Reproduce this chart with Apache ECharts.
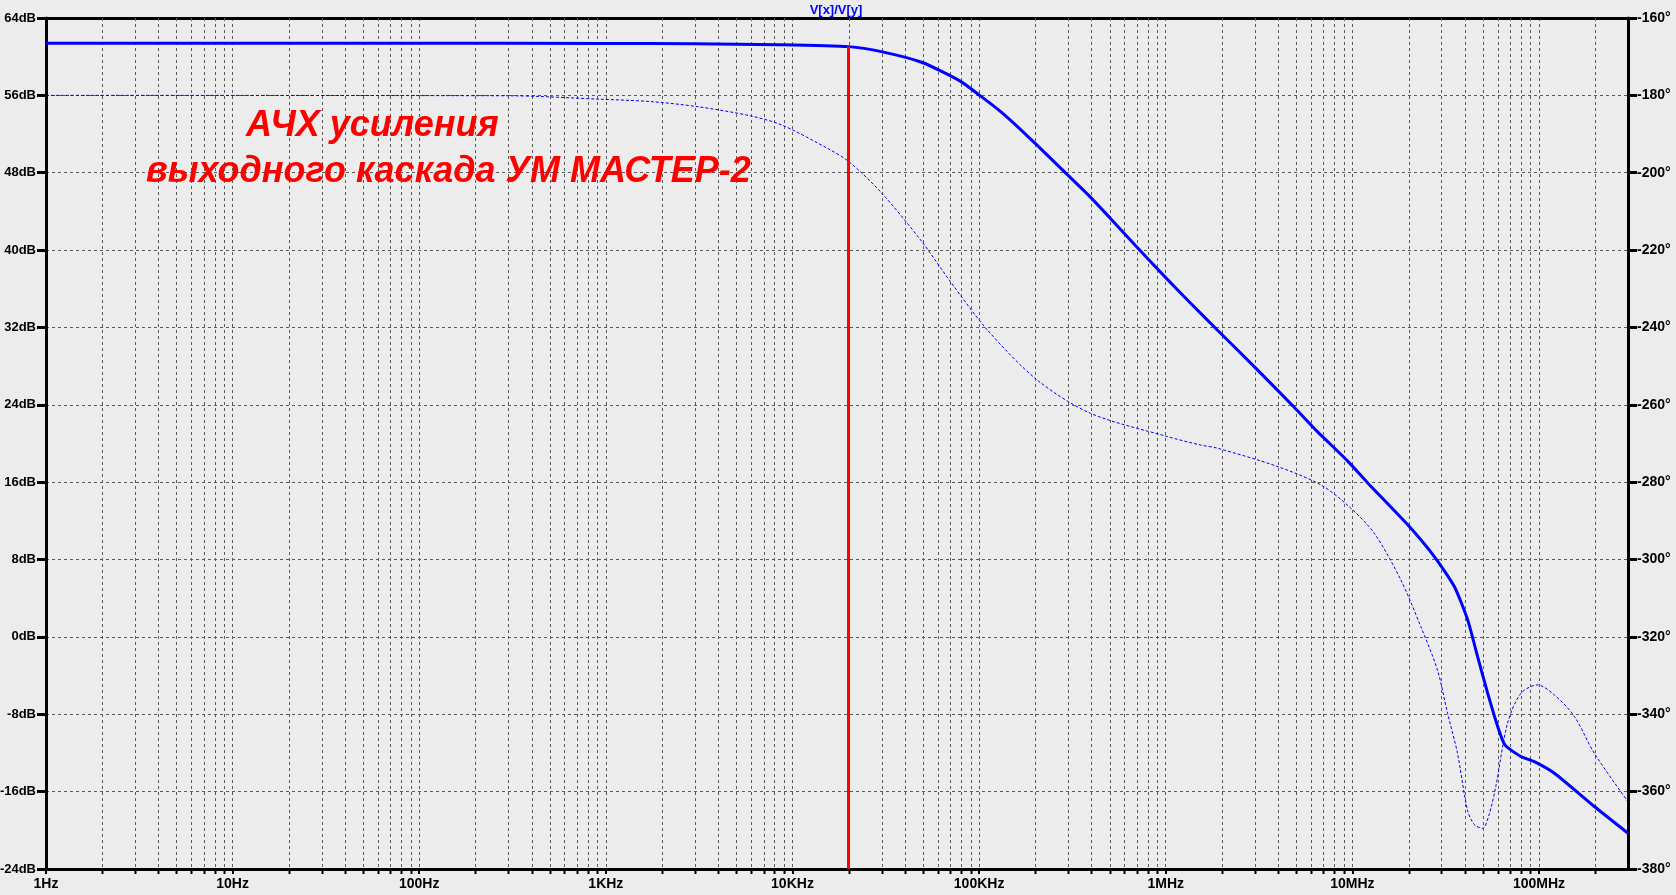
<!DOCTYPE html>
<html>
<head>
<meta charset="utf-8">
<script src="https://cdn.jsdelivr.net/npm/echarts/dist/echarts.min.js"></script>
<style>
html,body{margin:0;padding:0;background:#ececec;}
#chart{width:1676px;height:895px;}
</style>
</head>
<body>
<div id="chart"></div>
<script>
// ---- data ----
const magFreq = [1, 100, 1000, 3000, 8400, 20000, 30300, 49600, 79600, 102000, 130000, 160000, 203000, 297000, 396000, 507000, 690000, 1000000, 1360000, 1890000, 2980000, 4880000, 6500000, 9420000, 12050000, 19700000, 27500000, 35200000, 41500000, 46900000, 53100000, 60100000, 65700000, 80000000, 94400000, 121000000, 198000000, 300000000];
const magDb   = [61.38, 61.38, 61.37, 61.33, 61.24, 61.04, 60.5, 59.4, 57.45, 55.92, 54.35, 52.8, 50.9, 47.8, 45.45, 43.25, 40.45, 37.15, 34.5, 31.74, 27.95, 23.75, 21.23, 18.2, 15.95, 11.65, 8.31, 5.21, 1.76, -2.03, -5.82, -9.27, -11.17, -12.37, -12.9, -14.1, -17.54, -20.3];

const phFreq = [1, 300, 935, 1730, 3080, 5960, 8800, 15400, 20000, 29600, 48600, 70300, 111000, 205000, 396000, 1020000, 1540000, 1890000, 4000000, 6780000, 9600000, 13100000, 18200000, 23300000, 28600000, 32400000, 36600000, 41400000, 45000000, 49900000, 54000000, 58700000, 67900000, 80000000, 98200000, 121000000, 155000000, 198000000, 300000000];
const phDeg  = [-180, -180.1, -181.0, -181.6, -182.9, -185.3, -187.7, -193.7, -197.1, -204.9, -217.4, -228.2, -240.7, -253.6, -262.2, -268.2, -270.4, -271.2, -276, -280.7, -286.3, -293.2, -305.3, -317.4, -328.6, -339.8, -350.1, -364.8, -368.5, -369.5, -366, -358.7, -342.3, -334.6, -332.4, -335, -340.6, -350.1, -362.6];

const xTickLabels = ['1Hz', '10Hz', '100Hz', '1KHz', '10KHz', '100KHz', '1MHz', '10MHz', '100MHz'];
const cursorFreq = 20000;
const titleText = 'V[x]/V[y]';
const noteLine1 = 'АЧХ усиления';
const noteLine2 = 'выходного каскада УМ МАСТЕР-2';

// minor grid positions (2..9 per decade)
const minorFreqs = [];
for (let e = 0; e <= 8; e++) {
  for (let k = 2; k <= 9; k++) {
    const f = k * Math.pow(10, e);
    if (f < 3e8) minorFreqs.push(f);
  }
}

const chart = echarts.init(document.getElementById('chart'), null, {renderer: 'canvas'});
const FONT = 'Liberation Sans';
const gridDash = {color: '#5a5a5a', width: 1, type: [3, 3]};
const labelStyle = {color: '#000', fontFamily: FONT, fontSize: 14, fontWeight: 'bold'};
const leftLabelStyle = {color: '#000', fontFamily: FONT, fontSize: 13, fontWeight: 'bold'};

const cursorDb = magDb[magFreq.indexOf(cursorFreq)];

chart.setOption({
  animation: false,
  backgroundColor: '#ececec',
  title: {
    text: titleText,
    left: 831, top: -1,
    textAlign: 'center',
    textStyle: {color: '#0000ff', fontFamily: FONT, fontSize: 13, fontWeight: 'bold'}
  },
  grid: {left: 46, right: 48, top: 18, bottom: 26, containLabel: false, outerBoundsMode: 'none'},
  xAxis: [{
    type: 'log', logBase: 10, min: 1, max: 3e8,
    position: 'bottom',
    axisLine: {show: true, onZero: false, lineStyle: {color: '#000', width: 3}},
    axisTick: {show: true, length: 5, lineStyle: {color: '#000', width: 2}},
    axisLabel: Object.assign({
      margin: 8,
      showMaxLabel: false,
      formatter: function (v) {
        const l = Math.log10(v), e = Math.round(l);
        if (Math.abs(l - e) > 0.01) return '';
        return xTickLabels[e] || '';
      }
    }, labelStyle),
    splitLine: {show: true, showMinLine: false, showMaxLine: false, lineStyle: gridDash}
  }, {
    type: 'log', logBase: 10, min: 1, max: 3e8,
    position: 'top',
    axisLine: {show: true, onZero: false, lineStyle: {color: '#000', width: 3}},
    axisTick: {show: false}, axisLabel: {show: false}, splitLine: {show: false}
  }],
  yAxis: [{
    type: 'value', min: -24, max: 64, interval: 8,
    position: 'left',
    axisLine: {show: true, onZero: false, lineStyle: {color: '#000', width: 3}},
    axisTick: {show: true, length: 9, lineStyle: {color: '#000', width: 3}},
    axisLabel: Object.assign({margin: 10, formatter: v => v + 'dB'}, leftLabelStyle),
    splitLine: {show: true, showMinLine: false, showMaxLine: false, lineStyle: gridDash}
  }, {
    type: 'value', min: -380, max: -160, interval: 20,
    position: 'right',
    axisLine: {show: true, onZero: false, lineStyle: {color: '#000', width: 3}},
    axisTick: {show: true, length: 9, lineStyle: {color: '#000', width: 3}},
    axisLabel: Object.assign({margin: 9, formatter: v => v + '°'}, labelStyle),
    splitLine: {show: false}
  }],
  graphic: [{
    type: 'text', left: 246, top: 108, z: 100,
    style: {text: noteLine1, fill: '#ff0000', font: 'italic bold 36px "' + FONT + '"'}
  }, {
    type: 'text', left: 146, top: 154, z: 100,
    style: {text: noteLine2, fill: '#ff0000', font: 'italic bold 36px "' + FONT + '"'}
  }],
  series: [{
    type: 'custom',
    xAxisIndex: 0, yAxisIndex: 0,
    silent: true, clip: false, z: 1,
    data: minorFreqs.map(f => [f]),
    encode: {x: 0},
    renderItem: function (params, api) {
      const x = Math.round(api.coord([api.value(0), 0])[0]) + 0.5;
      const cs = params.coordSys;
      return {
        type: 'group',
        children: [{
          type: 'line',
          shape: {x1: x, y1: cs.y, x2: x, y2: cs.y + cs.height},
          style: {stroke: '#5a5a5a', lineWidth: 1, lineDash: [3, 3]}
        }, {
          type: 'line',
          shape: {x1: x, y1: cs.y + cs.height, x2: x, y2: cs.y + cs.height + 5},
          style: {stroke: '#000', lineWidth: 2}
        }]
      };
    }
  }, {
    name: 'phase', type: 'line',
    xAxisIndex: 0, yAxisIndex: 1,
    data: phFreq.map((f, i) => [f, phDeg[i]]),
    showSymbol: false, smooth: 0.3, z: 3,
    lineStyle: {color: '#0000ff', width: 1, type: [3, 2]}
  }, {
    name: 'magnitude', type: 'line',
    xAxisIndex: 0, yAxisIndex: 0,
    data: magFreq.map((f, i) => [f, magDb[i]]),
    showSymbol: false, smooth: 0.2, z: 4,
    lineStyle: {color: '#0000ff', width: 3},
    markLine: {
      silent: true, symbol: ['none', 'none'],
      label: {show: false},
      lineStyle: {color: '#ff0000', width: 3, type: 'solid'},
      data: [[{coord: [cursorFreq, cursorDb]}, {coord: [cursorFreq, -24]}]]
    }
  }]
});
</script>
</body>
</html>
